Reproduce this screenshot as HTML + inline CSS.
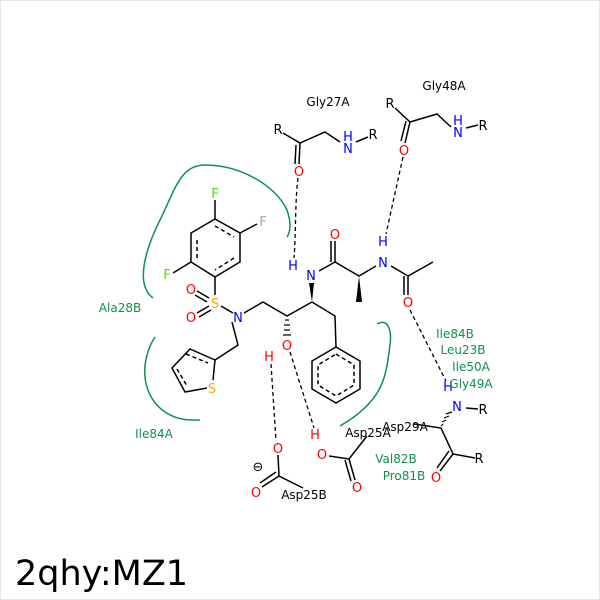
<!DOCTYPE html>
<html><head><style>body{margin:0;background:#fff}svg{display:block}text{font-family:"DejaVu Sans","Liberation Sans",sans-serif}</style></head><body>
<svg width="600" height="600" viewBox="0 0 600 600" xmlns="http://www.w3.org/2000/svg">
<rect x="0.5" y="0.5" width="599" height="599" fill="#fff" stroke="#e6e6e6"/>
<g fill="none" stroke="#109050" stroke-width="1.5">
<path d="M153,298 C135,285 145,250 160,220 C175,190 180,165 205,165 C240,165 275,185 287,210 C292,225 290,232 287,237"/>
<path d="M155,337 C140,360 140,395 165,412 C180,422 195,420 200,420"/>
<path d="M377,324 C388,318 392,330 390,345 C386,375 385,400 340,426"/>
</g>
<g stroke="#000" stroke-width="1.5" fill="none">
<path d="M283,133 L300,143 L325,132 L340,142"/><path d="M356,142 L368,137"/>
<path d="M300,143 L299,164 M296,145 L295,164"/>
<path d="M395,108 L410,122 L437,114 L451,127"/><path d="M466,128 L478,125"/>
<path d="M410,122 L405,143 M406,121 L401,141"/>
<path d="M319,271 L335,262 L359,276 L376,266"/>
<path d="M335,262 L335,241 M331,262 L331,241"/>
<path d="M391,266 L408,276 L433,262"/>
<path d="M408,276 L408,295 M404,276 L404,295"/>
<path d="M312,302 L335,316 L336,347"/>
<path d="M312,302 L287,316 L263,302 L244,313"/>
<path d="M233,313 L221,306"/>
<path d="M232,322 L238,345 L215,360"/>
<path d="M209,298 L197,291 M207,302 L195,295"/>
<path d="M209,306 L197,313 M211,310 L199,317"/>
<path d="M215,295 L215,277"/>
<path d="M215,219 L240,233 L240,262 L215,277 L191,262 L191,233 Z"/>
<path d="M215,226 L234,237 M234,258 L215,270 M197,258 L197,237" stroke-dasharray="4,3"/>
<path d="M215,219 L215,200 M240,233 L257,224 M191,262 L173,273"/>
<path d="M215,360 L213,380 M207,388 L185,392 L172,368 L190,349 L215,360"/>
<path d="M186,354 L208,363 M177,369 L187,386" stroke-dasharray="4,3"/>
<path d="M336,347 L360,361 L360,389 L336,403 L312,389 L312,361 Z"/>
<path d="M336,354 L354,365 L354,385 L336,396 L318,385 L318,365 Z" stroke-dasharray="4,3"/>
<path d="M278,455 L279,476 L303,488"/>
<path d="M279,476 L262,487 M276,472 L260,483"/>
<path d="M329,456 L349,459 L367,436"/>
<path d="M349,459 L355,480 M345,460 L351,481"/>
<path d="M414,424 L441,428 L453,454 L475,458"/>
<path d="M453,454 L440,471 M449,451 L437,468"/>
<path d="M466,408 L478,409"/>
</g>
<polygon points="312,302 309,283 314,283" fill="#000"/>
<polygon points="359,276 356,302 362,302" fill="#000"/>
<g stroke="#000" stroke-width="1.2">
<path d="M285,320 L289,320 M284,325 L290,325 M284,330 L290,330 M283,335 L291,335"/>
<path d="M443,424 L441,426 M446,420 L442,422 M449,416 L444,418 M452,412 L446,414"/>
</g>
<g stroke="#000" stroke-width="1.3" stroke-dasharray="4,3" fill="none">
<path d="M298,178 C295,200 296,235 294,258"/>
<path d="M403,157 L386,234"/>
<path d="M410,310 L446,381"/>
<path d="M271,364 L276,441"/>
<path d="M290,352 L314,428"/>
</g>
<g font-size="13" text-anchor="middle">
<text x="328" y="106" fill="#000" font-size="12">Gly27A</text>
<text x="444" y="90" fill="#000" font-size="12">Gly48A</text>
<text x="278" y="134" fill="#000">R</text><text x="373" y="139" fill="#000">R</text>
<text x="348" y="141" fill="#0000ff">H</text><text x="348" y="153" fill="#0000ff">N</text>
<text x="299" y="176" fill="#ff0000">O</text>
<text x="390" y="108" fill="#000">R</text><text x="483" y="130" fill="#000">R</text>
<text x="458" y="125" fill="#0000ff">H</text><text x="458" y="137" fill="#0000ff">N</text>
<text x="404" y="155" fill="#ff0000">O</text>
<text x="293" y="270" fill="#0000ff">H</text><text x="311" y="280" fill="#0000ff">N</text>
<text x="335" y="239" fill="#ff0000">O</text>
<text x="383" y="246" fill="#0000ff">H</text><text x="383" y="267" fill="#0000ff">N</text>
<text x="408" y="307" fill="#ff0000">O</text>
<text x="215" y="198" fill="#33ee00">F</text><text x="263" y="226" fill="#aaaaaa">F</text><text x="167" y="279" fill="#33ee00">F</text>
<text x="215" y="308" fill="#ffaa00">S</text>
<text x="191" y="294" fill="#ff0000">O</text><text x="191" y="322" fill="#ff0000">O</text>
<text x="238" y="322" fill="#0000ff">N</text>
<text x="212" y="393" fill="#ffaa00">S</text>
<text x="287" y="350" fill="#ff0000">O</text><text x="269" y="361" fill="#ff0000">H</text>
<text x="278" y="453" fill="#ff0000">O</text><text x="256" y="497" fill="#ff0000">O</text>
<text x="258" y="471" fill="#000">⊖</text>
<text x="304" y="499" fill="#000" font-size="12">Asp25B</text>
<text x="315" y="439" fill="#ff0000">H</text><text x="322" y="459" fill="#ff0000">O</text>
<text x="357" y="492" fill="#ff0000">O</text>
<text x="368" y="437" fill="#000" font-size="12">Asp25A</text>
<text x="405" y="431" fill="#000" font-size="12">Asp29A</text>
<text x="448" y="391" fill="#0000ff">H</text><text x="457" y="411" fill="#0000ff">N</text>
<text x="483" y="414" fill="#000">R</text><text x="479" y="463" fill="#000">R</text>
<text x="436" y="482" fill="#ff0000">O</text>
</g>
<g font-size="12" text-anchor="middle" fill="#109050">
<text x="120" y="312">Ala28B</text><text x="154" y="438">Ile84A</text>
<text x="455" y="338">Ile84B</text><text x="463" y="354">Leu23B</text>
<text x="471" y="371">Ile50A</text><text x="471" y="388">Gly49A</text>
<text x="396" y="463">Val82B</text><text x="404" y="480">Pro81B</text>
</g>
<text x="15" y="585" font-size="35" fill="#000">2qhy:MZ1</text>
</svg>
</body></html>
